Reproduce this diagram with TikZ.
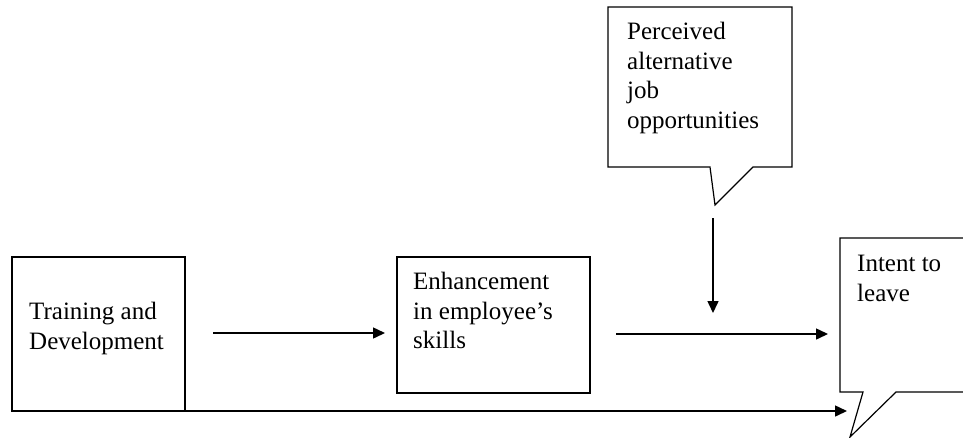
\documentclass[tikz,border=0pt]{standalone}
\usepackage{fontspec}
\setmainfont{Liberation Serif}
\usetikzlibrary{arrows.meta}
\begin{document}
\begin{tikzpicture}[x=1pt,y=-1pt,
  boxline/.style={draw=black,line width=1.2pt},
  conn/.style={draw=black,line width=1.5pt,-{Triangle[length=12pt,width=11pt]}},
  lbl/.style={anchor=north west,inner sep=0pt,align=left,font=\fontsize{25}{29.5}\selectfont}]
\useasboundingbox (0,0) rectangle (963,437);
\clip (0,0) rectangle (963,437);
% box 1
\draw[boxline] (12,257) rectangle (185,411);
\node[lbl] (td) at (29,302) {Training and\\Development};
% box 2
\draw[boxline] (397,257) rectangle (590,393);
\node[lbl] (es) at (413,272) {Enhancement\\in employee’s\\skills};
% box 3 (callout, right edge beyond the page)
\draw[boxline,line join=miter] (990,238) -- (840,238) -- (840,392) -- (863,392) -- (850,437) -- (896,392) -- (990,392);
\node[lbl] (il) at (857,255) {Intent to\\leave};
% box 4 (callout)
\draw[boxline,line join=miter] (608,7) -- (792,7) -- (792,167) -- (753,167) -- (715,205) -- (710,167) -- (608,167) -- cycle;
\node[lbl] (pa) at (627,22) {Perceived\\alternative\\job\\opportunities};
% connector end points
\coordinate (a1s) at (213,333);
\coordinate (a1e) at (385,333);
\coordinate (a2s) at (616,334);
\coordinate (a2e) at (828,334);
\coordinate (a3s) at (713,218);
\coordinate (a3e) at (713,313);
\coordinate (a4s) at (173,411);
\coordinate (a4e) at (847,411);
\draw[conn] (a1s) -- (a1e);
\draw[conn] (a2s) -- (a2e);
\draw[conn] (a3s) -- (a3e);
\draw[conn] (a4s) -- (a4e);
\end{tikzpicture}
\end{document}
